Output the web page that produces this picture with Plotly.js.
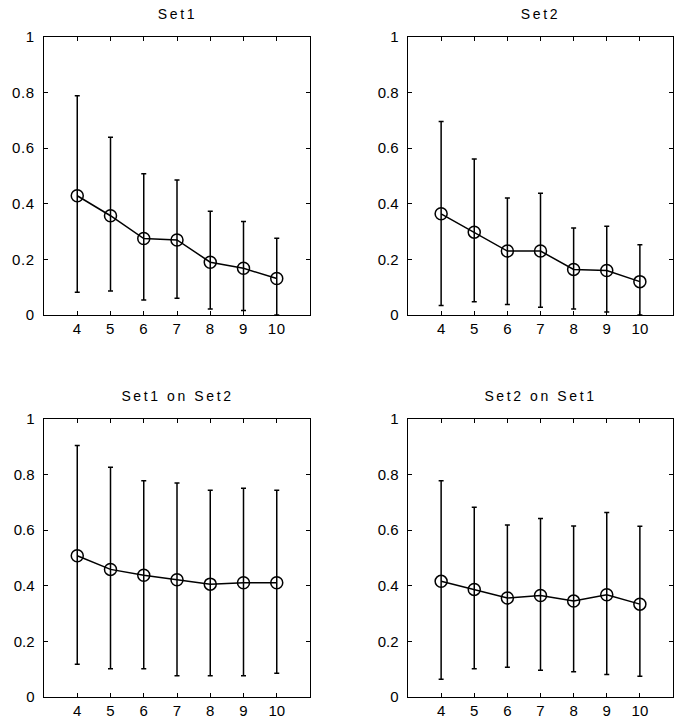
<!DOCTYPE html>
<html>
<head>
<meta charset="utf-8">
<script src="https://cdn.plot.ly/plotly-3.0.1.min.js"></script>
<style>
html,body{margin:0;padding:0;background:#fff;}
#chart{width:686px;height:727px;}
#chart .annotation-text{letter-spacing:2.6px;}
#chart .xtick text,#chart .ytick text{letter-spacing:0.6px;}
</style>
</head>
<body>
<div id="chart"></div>
<script>
// Data
const xs = [4, 5, 6, 7, 8, 9, 10];
const panelTitles = ["Set1", "Set2", "Set1 on Set2", "Set2 on Set1"];

const set1Mean  = [0.429, 0.357, 0.275, 0.270, 0.190, 0.168, 0.131];
const set1Upper = [0.789, 0.639, 0.508, 0.486, 0.373, 0.336, 0.276];
const set1Lower = [0.082, 0.086, 0.054, 0.060, 0.022, 0.016, 0.000];

const set2Mean  = [0.364, 0.298, 0.230, 0.230, 0.164, 0.160, 0.120];
const set2Upper = [0.696, 0.561, 0.421, 0.438, 0.313, 0.319, 0.253];
const set2Lower = [0.034, 0.048, 0.038, 0.028, 0.022, 0.011, 0.000];

const s1onS2Mean  = [0.508, 0.459, 0.438, 0.422, 0.406, 0.411, 0.411];
const s1onS2Upper = [0.905, 0.826, 0.778, 0.770, 0.744, 0.751, 0.744];
const s1onS2Lower = [0.118, 0.102, 0.102, 0.076, 0.076, 0.076, 0.085];

const s2onS1Mean  = [0.416, 0.387, 0.356, 0.365, 0.345, 0.368, 0.334];
const s2onS1Upper = [0.778, 0.683, 0.619, 0.642, 0.615, 0.664, 0.614];
const s2onS1Lower = [0.064, 0.102, 0.107, 0.096, 0.091, 0.081, 0.075];

const yTicks = [0, 0.2, 0.4, 0.6, 0.8, 1];
const yTickText = ["0", "0.2", "0.4", "0.6", "0.8", "1"];

const panels = [
  {mean: set1Mean, up: set1Upper, lo: set1Lower},
  {mean: set2Mean, up: set2Upper, lo: set2Lower},
  {mean: s1onS2Mean, up: s1onS2Upper, lo: s1onS2Lower},
  {mean: s2onS1Mean, up: s2onS1Upper, lo: s2onS1Lower}
];

const W = 686, H = 727;
// plot boxes in pixels: [left, right, top, bottom]
const boxes = [
  [44, 310, 37, 315],
  [408, 673, 37, 315],
  [44, 310, 419, 697],
  [408, 673, 419, 697]
];

const font = "Liberation Sans, Arial, Helvetica, sans-serif";
const traces = [];
const layout = {
  width: W, height: H,
  margin: {l: 0, r: 0, t: 0, b: 0},
  paper_bgcolor: "#fff", plot_bgcolor: "#fff",
  showlegend: false,
  font: {family: font, color: "#000", size: 15},
  annotations: []
};

panels.forEach((p, i) => {
  const n = i === 0 ? "" : String(i + 1);
  const b = boxes[i];
  traces.push({
    type: "scatter", mode: "lines+markers",
    x: xs, y: p.mean,
    xaxis: "x" + n, yaxis: "y" + n,
    line: {color: "#000", width: 1.5},
    marker: {symbol: "circle-open", size: 12, color: "#000", line: {width: 1.5, color: "#000"}},
    error_y: {
      type: "data", symmetric: false,
      array: p.up.map((v, k) => v - p.mean[k]),
      arrayminus: p.mean.map((v, k) => v - p.lo[k]),
      color: "#000", thickness: 1.5, width: 2.5
    },
    cliponaxis: false,
    hoverinfo: "skip"
  });
  const axCommon = {
    showline: true, mirror: "ticks", linecolor: "#000", linewidth: 1.4,
    ticks: "inside", ticklen: 4, tickwidth: 1, tickcolor: "#000",
    showgrid: false, zeroline: false, fixedrange: true,
    tickfont: {family: font, size: 15, color: "#000"}
  };
  layout["xaxis" + n] = Object.assign({}, axCommon, {
    domain: [b[0] / W, b[1] / W], range: [3, 11],
    tickmode: "array", tickvals: xs,
    anchor: "y" + n
  });
  layout["yaxis" + n] = Object.assign({}, axCommon, {
    domain: [(H - b[3]) / H, (H - b[2]) / H], range: [0, 1],
    tickmode: "array", tickvals: yTicks, ticktext: yTickText,
    ticklabelstandoff: 5,
    anchor: "x" + n
  });
  layout.annotations.push({
    text: panelTitles[i], showarrow: false,
    xref: "paper", yref: "paper",
    x: (b[0] + b[1]) / 2 / W, y: (H - (b[2] - 23)) / H,
    xanchor: "center", yanchor: "middle",
    font: {family: font, size: 14, color: "#000"}
  });
});

Plotly.newPlot("chart", traces, layout, {displayModeBar: false, staticPlot: true});
</script>
</body>
</html>
